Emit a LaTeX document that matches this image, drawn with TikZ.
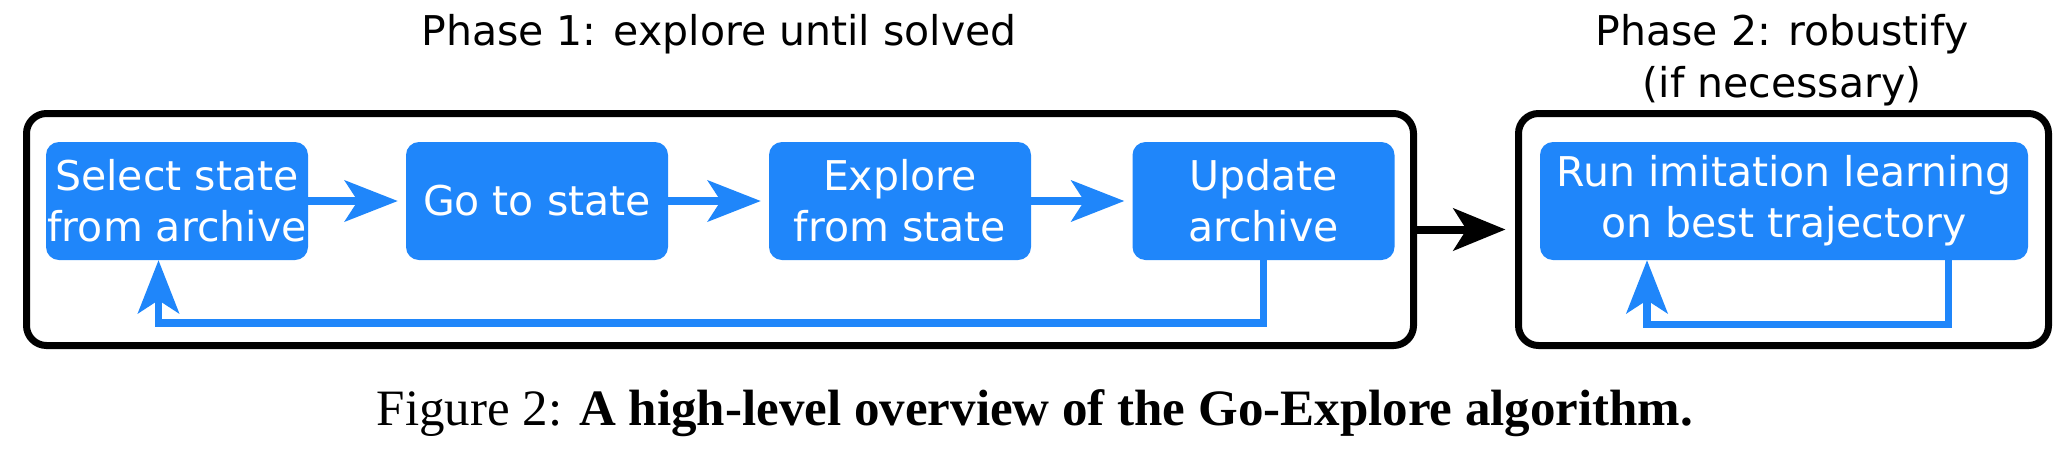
\documentclass[tikz,border=0pt]{standalone}
\usepackage{fontspec}
\setmainfont{Liberation Serif}
\newfontfamily\djv{DejaVu Sans}
\usetikzlibrary{arrows.meta}
\definecolor{gblue}{RGB}{31,134,250}
\tikzset{
  stepbox/.style={rectangle, rounded corners=13pt, fill=gblue, text=white,
    minimum width=262pt, minimum height=118pt, inner sep=0pt, align=center,
    font=\djv\fontsize{41}{51}\selectfont},
  phasebox/.style={rectangle, rounded corners=20pt, draw=black, line width=7pt,
    minimum height=232pt, inner sep=0pt},
  titletext/.style={align=center, inner sep=0pt, anchor=base,
    font=\djv\fontsize{41}{52}\selectfont},
  bluearrow/.style={draw=gblue, line width=7.5pt,
    -{Stealth[length=53pt, width=41pt, inset=13pt]}},
  blueloop/.style={draw=gblue, line width=7.5pt, line join=miter,
    -{Stealth[length=53pt, width=41pt, inset=13pt]}},
  blackarrow/.style={draw=black, line width=8pt,
    -{Stealth[length=52pt, width=42pt, inset=13pt]}},
}
\begin{document}
\begin{tikzpicture}[x=1pt, y=-1pt]
\useasboundingbox (0,0) rectangle (2068,448);
% titles
\node[titletext] (t1) at (719,45) {Phase 1: explore until solved};
\node[titletext] (t2) at (1782,97) {Phase 2: robustify\\(if necessary)};
% phase boxes
\node[phasebox, minimum width=1387pt] (P1) at (720,229.5) {};
\node[phasebox, minimum width=530pt] (P2) at (1783.5,229.5) {};
% step boxes
\node[stepbox] (A) at (177,201) {Select state\\from archive};
\node[stepbox] (B) at (537,201) {Go to state};
\node[stepbox] (C) at (900,201) {Explore\\from state};
\node[stepbox] (D) at (1263.5,201) {Update\\archive};
\node[stepbox, minimum width=488pt] (E) at (1784,201) {Run imitation learning\\on best trajectory};
% connectors
\draw[bluearrow, shorten >=8pt] (A.east) -- (B.west);
\draw[bluearrow, shorten >=8pt] (B.east) -- (C.west);
\draw[bluearrow, shorten >=8pt] (C.east) -- (D.west);
\coordinate (la) at (158.5,323);
\draw[blueloop] (D.south) |- (la) -- (la |- A.south);
\coordinate (le1) at (1948.5,324.5);
\coordinate (le2) at (1647,324.5);
\draw[blueloop] (le1 |- E.south) -- (le1) -- (le2) -- (le2 |- E.south);
\draw[blackarrow, shorten >=9.5pt] (P1.east) -- (P2.west);
% caption
\node[anchor=base, inner sep=0pt, font=\fontsize{51}{60}\selectfont] (cap) at (1035,425)
  {Figure 2: \textbf{A high-level overview of the Go-Explore algorithm.}};
\end{tikzpicture}
\end{document}
